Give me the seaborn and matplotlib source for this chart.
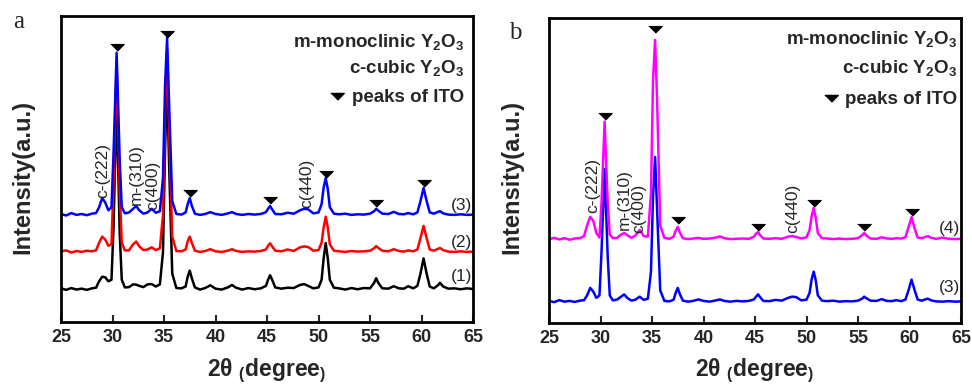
import numpy as np
import pandas as pd
import matplotlib
matplotlib.use("Agg")
import matplotlib.pyplot as plt
import seaborn as sns

# ---------------- data ----------------
two_theta = [25.0, 25.5, 26.0, 26.5, 27.0, 27.5, 28.0, 28.4, 28.7, 29.0,
             29.3, 29.6, 29.9, 30.1, 30.4, 30.7, 30.9, 31.2, 31.6, 32.0,
             32.3, 32.6, 33.0, 33.4, 33.8, 34.2, 34.6, 34.9, 35.1, 35.3,
             35.5, 35.8, 36.2, 36.7, 37.1, 37.3, 37.5, 37.7, 38.0, 38.5,
             39.0, 39.5, 40.0, 40.6, 41.2, 41.6, 42.0, 42.6, 43.2, 43.8,
             44.4, 44.9, 45.1, 45.3, 45.5, 45.8, 46.4, 47.0, 47.6, 48.2,
             48.6, 49.0, 49.5, 50.0, 50.3, 50.5, 50.7, 50.9, 51.1, 51.5,
             52.0, 52.6, 53.2, 53.8, 54.4, 55.0, 55.4, 55.6, 55.8, 56.2,
             56.8, 57.3, 57.8, 58.3, 58.7, 59.2, 59.6, 59.9, 60.2, 60.5,
             60.8, 61.2, 61.6, 61.8, 62.1, 62.6, 63.2, 63.8, 64.4, 65.0]

sample1 = [0.2, -0.3, 0.3, -0.2, 0.1, -0.3, 0.2, 0.4, 2.5, 4.0,
           3.8, 2.5, 3.0, 20, 62, 18, 3, 0.5, 0.6, 1.5,
           1.4, 1.0, 0.6, 1.5, 1.6, 0.8, 1.5, 12, 45, 68,
           40, 5, 0.3, 0.2, 0.8, 4.0, 6.0, 3.5, 0.5, -0.2,
           0.3, 1.2, 0.1, -0.2, 0.5, 1.3, 0.4, -0.2, 0.3, -0.1,
           0.2, 1.0, 3.0, 4.5, 3.0, 0.5, 0.1, 0.4, 0.3, 1.3,
           1.6, 1.0, 0.2, 0.5, 3, 10, 15, 10, 3, 0.4,
           0.2, -0.2, 0.3, -0.1, 0.3, 0.2, 2.0, 3.5, 2.0, 0.2,
           0.1, 0.9, 0.2, 0.1, 0.9, 0.2, 1.0, 5, 10, 5,
           0.8, 0.2, 1.2, 2.0, 0.8, 0.1, 0.2, -0.1, 0.2, 0.0]

sample2 = [0.2, 0.5, -0.2, 0.3, 0.0, 0.4, 0.2, 0.5, 3.0, 5.0,
           4.0, 2.0, 2.5, 22, 62, 20, 3, 0.5, 0.5, 2.5,
           3.4, 1.8, 0.6, 0.8, 1.5, 0.6, 1.2, 12, 45, 66,
           40, 5, 0.3, 0.2, 0.8, 3.5, 5.0, 3.0, 0.4, 0.0,
           0.3, 0.9, 0.2, 0.0, 0.4, 0.9, 0.3, 0.0, 0.2, 0.1,
           0.3, 0.8, 2.0, 2.8, 1.8, 0.4, 0.2, 0.8, 0.3, 1.5,
           1.8, 1.6, 0.4, 0.6, 3, 8, 11.5, 8, 2.5, 0.4,
           0.2, 0.0, 0.3, 0.1, 0.2, 0.4, 1.2, 1.9, 1.3, 0.4,
           0.2, 0.9, 0.3, 0.1, 0.5, 0.2, 0.8, 4.5, 8.5, 4.5,
           0.8, 0.4, 1.0, 1.3, 0.6, 0.1, 0.0, 0.2, 0.0, 0.1]

sample3 = [0.3, -0.2, 0.6, 0.0, 0.3, -0.1, 0.4, 0.6, 2.5, 5.5,
           4.0, 1.5, 2.5, 20, 53, 18, 2.5, 0.5, 0.8, 2.0,
           2.9, 1.5, 0.4, 0.8, 2.0, 0.7, 1.2, 12, 42, 57.8,
           36, 4.5, 0.3, 0.1, 0.8, 3.5, 5.5, 3.0, 0.4, 0.0,
           0.3, 0.9, 0.3, 0.0, 0.5, 0.9, 0.3, 0.0, 0.3, 0.1,
           0.3, 0.9, 2.0, 2.9, 1.8, 0.3, 0.2, 0.7, 0.4, 1.5,
           2.0, 1.8, 0.5, 0.8, 3.5, 9, 12, 8.5, 2.5, 0.4,
           0.2, 0.4, 0.0, 0.2, 0.1, 0.4, 1.2, 2.0, 1.4, 0.4,
           0.3, 1.0, 0.3, 0.2, 0.6, 0.2, 0.8, 4.5, 8.8, 4.5,
           0.8, 0.4, 1.0, 1.2, 0.5, 0.1, 0.0, 0.2, 0.0, 0.1]

sample4 = [0.0, 0.4, -0.1, 0.3, -0.2, 0.2, 0.3, 1.0, 4.5, 7.3,
           6.0, 2.0, 0.5, 12, 38.5, 12, 1.5, 0.3, 0.4, 1.5,
           2.0, 1.3, 0.4, 1.2, 3.0, 1.0, 0.8, 15, 52, 65.3,
           45, 4.5, 0.4, 0.1, 0.8, 2.8, 4.0, 2.2, 0.3, 0.0,
           0.2, 0.4, 0.1, 0.2, 0.5, 0.9, 0.3, 0.0, 0.1, 0.2,
           0.1, 0.8, 1.8, 2.3, 1.3, 0.2, 0.1, 0.3, 0.1, 0.8,
           1.0, 0.7, 0.2, 0.6, 3.0, 7.5, 10.2, 7.0, 2.0, 0.3,
           0.2, 0.0, 0.2, 0.0, 0.1, 0.3, 1.3, 2.0, 1.2, 0.2,
           0.1, 0.6, 0.2, 0.1, 0.3, 0.2, 0.6, 3.8, 7.2, 3.5,
           0.5, 0.3, 0.8, 1.0, 0.4, 0.1, 0.5, 0.1, 0.0, 0.1]

# panel a: samples (1),(2),(3); panel b: samples (3),(4)
offsets_a = [10.8, 22.9, 35.0]
offsets_b = [7.0, 27.5]
scale_b3 = 0.82

ito_peaks = [30.4, 35.3, 37.5, 45.3, 50.7, 55.6, 60.2]
ito_marks_a = [89.9, 94.1, 42.2, 39.9, 48.4, 38.9, 45.4]
ito_marks_b = [68.0, 96.5, 33.8, 31.5, 39.3, 31.5, 36.4]

plane_labels = ["c-(222)", "m-(310)", "c(400)", "c(440)"]
plane_x_a = [29.1, 32.3, 33.9, 48.9]
plane_y_a = [40.5, 38.2, 36.6, 37.3]
plane_x_b = [29.2, 32.3, 33.7, 48.7]
plane_y_b = [36.1, 30.5, 29.5, 29.5]

series_labels_a = ["(1)", "(2)", "(3)"]
series_label_y_a = [15.0, 26.1, 38.2]
series_labels_b = ["(3)", "(4)"]
series_label_y_b = [11.5, 31.1]

xticks = [25, 30, 35, 40, 45, 50, 55, 60, 65]

# ---------------- style ----------------
sns.set_style("ticks")
plt.rcParams['font.family'] = ['Liberation Sans', 'DejaVu Sans']
plt.rcParams['mathtext.fontset'] = 'custom'
plt.rcParams['mathtext.rm'] = 'Liberation Sans'
plt.rcParams['mathtext.bf'] = 'Liberation Sans:bold'
plt.rcParams['mathtext.it'] = 'Liberation Sans:italic'

fig = plt.figure(figsize=(9.72, 3.84), dpi=100)
ax_a = fig.add_axes([61/972, 1-322/384, 412/972, 306/384])
ax_b = fig.add_axes([549/972, 1-323/384, 412/972, 305/384])

tri = [(-1.0, 0.45), (1.0, 0.45), (0.0, -0.55)]

def draw(ax, curves, marks, px, py, slabels, sly, leg_x, leg_ys, mark_x):
    for (vals, off, col, sc) in curves:
        df = pd.DataFrame({"x": two_theta, "y": np.array(vals) * sc + off})
        sns.lineplot(data=df, x="x", y="y", color=col, lw=1.8, ax=ax,
                     estimator=None, sort=False)
    sns.scatterplot(x=ito_peaks, y=marks, marker=tri, s=95, color="black",
                    edgecolor="black", ax=ax, zorder=5)
    for lab, x, y in zip(plane_labels, px, py):
        ax.text(x, y, lab, rotation=90, ha="center", va="bottom", fontsize=12.5)
    for lab, y in zip(slabels, sly):
        ax.text(63.9, y, lab, ha="center", va="center", fontsize=12.5)
    ax.set_xlim(25, 65)
    ax.set_ylim(0, 100)
    ax.set_xticks(xticks)
    ax.set_xticklabels([str(t) for t in xticks], fontweight="bold", fontsize=13)
    ax.set_yticks([])
    ax.tick_params(axis="x", direction="in", length=5, width=1.5, pad=5)
    for s in ax.spines.values():
        s.set_linewidth(2)
        s.set_color("black")
    ax.set_xlabel("")
    ax.set_ylabel("")
    legtxt = [r"m-monoclinic Y$_\mathbf{2}$O$_\mathbf{3}$",
              r"c-cubic Y$_\mathbf{2}$O$_\mathbf{3}$",
              "peaks of ITO"]
    for t, y in zip(legtxt, leg_ys):
        ax.text(leg_x, y, t, transform=ax.transAxes, ha="right", va="center",
                fontsize=13.5, fontweight="bold")
    ax.scatter([mark_x], [leg_ys[2] + 0.005], marker=tri, s=95, color="black",
               transform=ax.transAxes, zorder=5)

draw(ax_a,
     [(sample1, offsets_a[0], "black", 1.0),
      (sample2, offsets_a[1], "#ff0000", 1.0),
      (sample3, offsets_a[2], "#0000ff", 1.0)],
     ito_marks_a, plane_x_a, plane_y_a, series_labels_a, series_label_y_a,
     0.978, [0.915, 0.830, 0.735], 0.67)
draw(ax_b,
     [(sample3, offsets_b[0], "#0000ff", scale_b3),
      (sample4, offsets_b[1], "#ff00ff", 1.0)],
     ito_marks_b, plane_x_b, plane_y_b, series_labels_b, series_label_y_b,
     0.99, [0.931, 0.836, 0.734], 0.684)

for xc, xl in [(23, 267), (512, 755)]:
    fig.text(xc/972, 1-177/384, "Intensity(a.u.)", rotation=90, ha="center",
             va="center", fontsize=17, fontweight="bold")
    fig.text(xl/972, 1-371/384, r"2θ $_\mathbf{(}$degree$_\mathbf{)}$",
             ha="center", va="center", fontsize=16.5, fontweight="bold")

fig.text(19/972, 1-22/384, "a", family=["Liberation Serif", "DejaVu Serif"],
         fontsize=18, ha="center", va="center")
fig.text(515/972, 1-33/384, "b", family=["Liberation Serif", "DejaVu Serif"],
         fontsize=18, ha="center", va="center")

fig.savefig("out.png", dpi=100)
